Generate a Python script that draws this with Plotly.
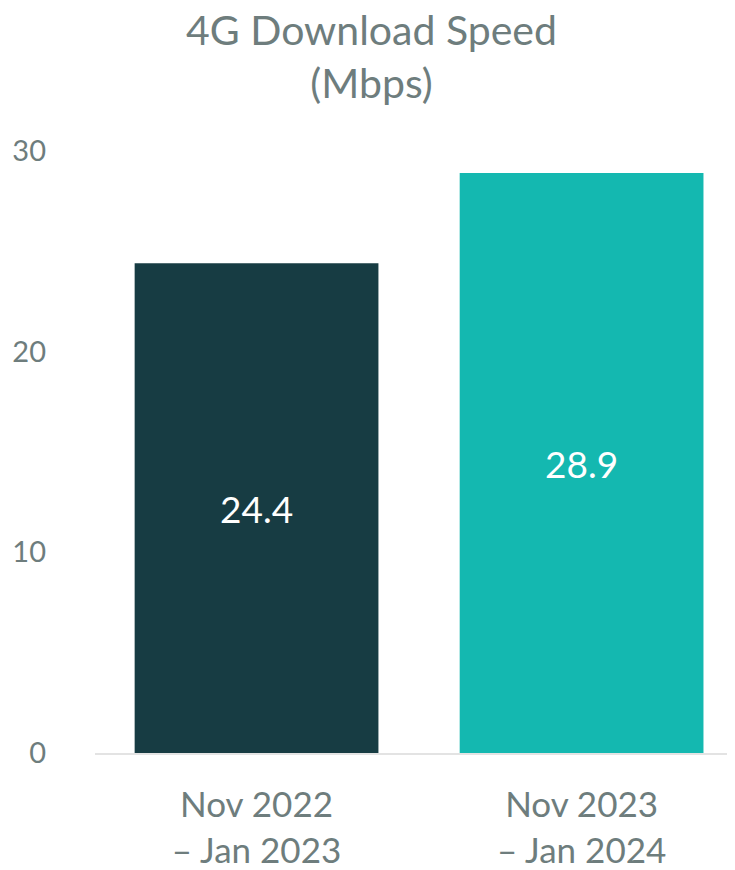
import plotly.graph_objects as go

periods = ['Nov 2022<br>– Jan 2023', 'Nov 2023<br>– Jan 2024']
speeds = [24.4, 28.9]
bar_colors = ['#173c43', '#14b8b0']
y_ticks = [0, 10, 20, 30]

gray = '#6e7d7d'
font_family = 'Lato, Noto Sans, sans-serif'

fig = go.Figure()

fig.add_trace(
    go.Bar(
        x=[0, 1],
        y=speeds,
        width=0.75,
        marker=dict(color=bar_colors, line=dict(width=0)),
        text=[f'{v:.1f}' for v in speeds],
        textposition='inside',
        insidetextanchor='middle',
        textfont=dict(color='white', size=37, family=font_family),
        hoverinfo='skip',
    )
)

# the page body has an 8px margin, so the figure is sized to fit inside the window
fig.update_layout(
    width=727,
    height=862,
    margin=dict(l=87, r=0, t=143, b=117),
    paper_bgcolor='white',
    plot_bgcolor='white',
    showlegend=False,
    font=dict(family=font_family, color=gray),
    title=dict(
        text='4G Download Speed<br>(Mbps)',
        x=0.5,
        xanchor='center',
        y=0.957,
        yanchor='top',
        font=dict(size=41, color=gray, family=font_family),
    ),
)

fig.update_xaxes(
    range=[-0.497, 1.472],
    tickvals=[0, 1],
    ticktext=periods,
    tickfont=dict(size=35, color=gray),
    showgrid=False,
    zeroline=False,
    showline=True,
    linecolor='#e3e3e3',
    linewidth=2,
    ticks='',
    ticklabelstandoff=20,
)

fig.update_yaxes(
    range=[0, 30],
    tickvals=y_ticks,
    tickfont=dict(size=29, color=gray),
    showgrid=False,
    zeroline=False,
    showline=False,
    ticks='',
    ticklabelstandoff=48,
)

fig.write_html('out.html')
